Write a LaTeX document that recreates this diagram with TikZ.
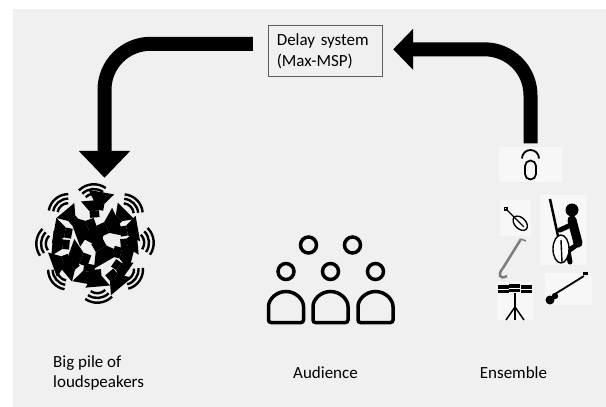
\documentclass[tikz,border=0pt]{standalone}
\usepackage{fontspec}
\setmainfont{Carlito}
\usepackage{tikz}
\usetikzlibrary{positioning,arrows.meta,calc}
\definecolor{PanelGray}{RGB}{240,240,240}
\definecolor{IconWhite}{RGB}{247,247,247}
\definecolor{BoxEdge}{RGB}{95,95,95}
\definecolor{ReedGray}{RGB}{125,125,125}

% one loudspeaker pointing along +x
\newcommand{\spkr}[3]{%
  \begin{scope}[shift={(#1)}, rotate=#2, scale=#3]
    \fill (-10,-5) rectangle (-3,5);
    \fill (-3,-5) -- (8,-13) -- (8,13) -- (-3,5) -- cycle;
  \end{scope}}
% same, with sound waves in front
\newcommand{\spkrw}[3]{%
  \begin{scope}[shift={(#1)}, rotate=#2, scale=#3]
    \fill (-10,-5) rectangle (-3,5);
    \fill (-3,-5) -- (8,-13) -- (8,13) -- (-3,5) -- cycle;
    \foreach \r in {12,17,22}
      \draw[line width=2.4pt] ([shift={(-40:\r)}]3,0) arc[start angle=-40, end angle=40, radius=\r];
  \end{scope}}

\begin{document}
\begin{tikzpicture}[x=1pt, y=-1pt,
    delaybox/.style={rectangle, draw=BoxEdge, line width=0.8pt, align=left, text width=98pt, inner sep=8pt, minimum height=51pt, font=\fontsize{17}{21}\selectfont},
    iconbox/.style={rectangle, inner sep=0pt},
    iconbg/.style={rectangle, inner sep=0pt, fill=IconWhite},
    label/.style={inner sep=0pt, font=\fontsize{17}{20}\selectfont},
    band/.style={line width=14pt, black, rounded corners=46pt},
    person/.style={line width=3.5pt, black, rounded corners=2.5pt},
    outline/.style={line width=1.4pt, black}
]
    \useasboundingbox (0,0) rectangle (606,407);
    \fill[white] (0,0) rectangle (606,407);
    \fill[PanelGray] (13,9) rectangle (606,407);

    % Delay system
    \node[delaybox] (delay) at (325.8,51.3) {Delay system\\(Max-MSP)};

    % Loudspeaker pile - outer ring with waves
    \node[iconbox, minimum width=120pt, minimum height=124pt] (pile) at (104.5,240) {};
    \spkrw{94,208}{95}{0.95}
    \spkrw{121,216}{45}{0.9}
    \spkrw{130,243}{5}{0.95}
    \spkrw{121,268}{-35}{0.9}
    \spkrw{97,279}{-85}{0.95}
    \spkrw{70,268}{-140}{0.9}
    \spkrw{60,244}{175}{0.95}
    \spkrw{70,216}{130}{0.9}
    % Loudspeaker pile - packed core
    \spkr{84,228}{200}{1.25}
    \spkr{110,226}{25}{1.2}
    \spkr{103,252}{-60}{1.25}
    \spkr{78,257}{160}{1.2}
    \spkr{124,254}{-15}{1.1}
    \spkr{96,238}{115}{1.15}
    \spkr{88,275}{-100}{1.1}
    \spkr{116,280}{-50}{1.05}
    \spkr{62,232}{170}{1.0}
    \spkr{130,230}{10}{1.0}
    \spkr{100,200}{80}{1.0}
    \spkr{60,262}{-160}{1.0}

    % Audience
    \node[iconbox, minimum width=130pt, minimum height=92pt] (crowd) at (331,280) {};
    \foreach \cx in {308.5,352.5}
        \draw[person] (\cx,245) circle (8);
    \foreach \cx in {286,330.5,375.5} {
        \draw[person] (\cx,271.5) circle (8);
        \draw[person] (\cx-17.5,322.5) -- (\cx-17.5,309) arc[start angle=180, end angle=360, radius=17.5] -- (\cx+17.5,322.5) -- cycle;
    }

    % Ensemble - microphone
    \node[iconbg, minimum width=63pt, minimum height=35pt] (mic) at (530.5,164.5) {};
    \draw[outline, line width=1.8pt] (522,158.5) arc[start angle=180, end angle=360, radius=8.5];
    \draw[outline, line width=1.8pt, rounded corners=5.5pt] (525,160.5) rectangle (536,179.5);

    % Ensemble - violin
    \node[iconbg, minimum width=31pt, minimum height=36pt] (violin) at (515.5,218) {};
    \begin{scope}[shift={(516,219)}, rotate=-45]
        \draw[outline, fill=white] (6,0) ellipse [x radius=8.5, y radius=5.5];
        \draw[outline] (-13,0) -- (11,0);
        \draw[outline] (-14.5,0) circle (1.8);
    \end{scope}

    % Ensemble - cellist
    \node[iconbg, minimum width=47pt, minimum height=70pt] (cellist) at (563.5,230) {};
    \fill (572,210) circle (6.5);
    \draw[line width=9pt, line cap=round] (572,220) -- (578,243);
    \draw[line width=5pt, line cap=round] (573,224) -- (560,230);
    \draw[line width=5pt, line cap=round] (578,244) -- (568,251) -- (570,262);
    \draw[line width=2.5pt] (550,199) -- (558,236);
    \draw[outline, fill=white] (561,249) ellipse [x radius=8, y radius=14];
    \draw[outline] (561,240) -- (562,262);

    % Ensemble - bass clarinet
    \draw[ReedGray, line width=2.5pt] (521,239) -- (503,268);
    \draw[ReedGray, line width=1.5pt] (521,239) -- (526,241);
    \draw[ReedGray, line width=2.5pt] (503,268) .. controls (497,275) and (500,280) .. (507,276);

    % Ensemble - timbales
    \node[iconbg, minimum width=36pt, minimum height=38pt] (drums) at (515,301) {};
    \foreach \dx/\dy in {498/285,509/284,521/285} {
        \fill (\dx,\dy) rectangle ++(11,8);
        \draw[white, line width=0.8pt] (\dx,\dy+4) -- ++(11,0);
    }
    \draw[line width=1.5pt] (515,293) -- (515,320);
    \draw[line width=1.5pt] (506,320) -- (515,307) -- (524,320);

    % Ensemble - bass guitar
    \node[iconbg, minimum width=47pt, minimum height=32pt] (guitar) at (568.5,289) {};
    \draw[line width=1.8pt] (555,294) -- (584,276);
    \fill (550,300) circle (4.5);
    \fill (555,296) circle (3.2);
    \fill (583,275) rectangle ++(5,-3);

    % Labels
    \node[label, align=left, anchor=north west] (lblpile) at (53,355) {Big pile of\\loudspeakers};
    \node[label, anchor=base] (lblcrowd) at (325.5,378) {Audience};
    \node[label, anchor=base] (lblband) at (513.5,378) {Ensemble};

    % Signal loop
    \draw[band, -{Triangle[length=27pt,width=50pt]}] ([xshift=-15.5pt,yshift=7.5pt]delay.west) -| (pile.north);
    \draw[band, shorten <=3.5pt, -{Triangle[length=20pt,width=40pt]}] (mic.north) |- ([xshift=10pt,yshift=2pt]delay.east);
\end{tikzpicture}
\end{document}
